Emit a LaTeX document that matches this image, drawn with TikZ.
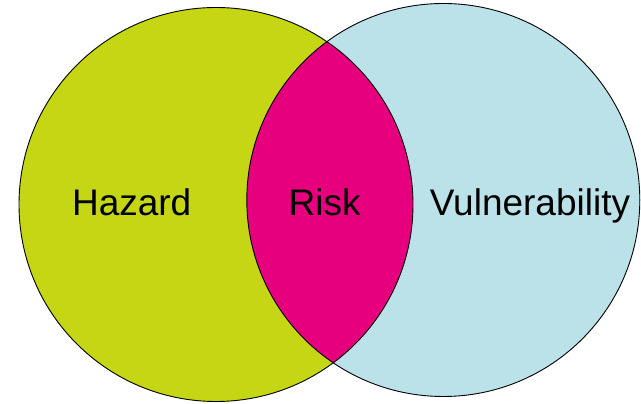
\documentclass[tikz,border=0pt]{standalone}
\usepackage{fontspec}
\setmainfont{Liberation Sans}
\definecolor{hazardgreen}{RGB}{196,214,20}
\definecolor{vulnblue}{RGB}{188,226,233}
\definecolor{riskmagenta}{RGB}{230,0,126}
\begin{document}
\begin{tikzpicture}[x=1pt,y=1pt,
  lbl/.style={anchor=base,inner sep=0pt,font=\fontsize{37}{40}\selectfont},
  outline/.style={draw=black,line width=0.9pt}]
\useasboundingbox (0,0) rectangle (641,404);
\coordinate (cH) at (216,199.5);
\coordinate (cV) at (443.3,204);
\fill[hazardgreen] (cH) circle[radius=197];
\fill[vulnblue] (cV) circle[radius=196.5];
\begin{scope}
  \clip (cH) circle[radius=197];
  \fill[riskmagenta] (cV) circle[radius=196.5];
\end{scope}
\draw[outline] (cH) circle[radius=197];
\draw[outline] (cV) circle[radius=196.5];
\node[lbl] (hazard) at (131.7,188.3) {Hazard};
\node[lbl] (risk) at (324.7,188.3) {Risk};
\node[lbl] (vuln) at (530,188.3) {Vulnerability};
\end{tikzpicture}
\end{document}
